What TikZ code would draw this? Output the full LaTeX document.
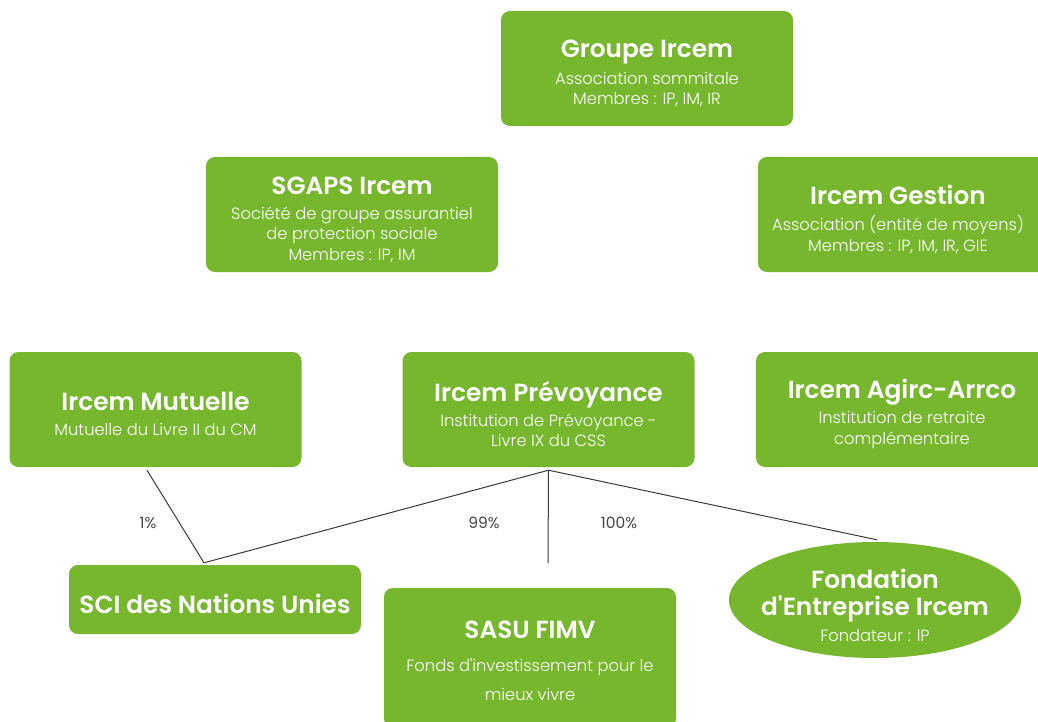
\documentclass[tikz,border=0pt]{standalone}
\usepackage{fontspec}
\setmainfont{Poppins Light}[BoldFont={Poppins SemiBold}]
\newfontfamily\pctfont{Poppins}
\usetikzlibrary{shapes.geometric,calc}
\definecolor{ig}{HTML}{76B72E}
\definecolor{lc}{HTML}{3A3A3A}
\definecolor{pc}{HTML}{444444}
\newcommand{\ttl}[1]{{\fontsize{24.8}{28}\selectfont\bfseries #1}}
\begin{document}
\begin{tikzpicture}[x=1pt,y=-1pt,
  box/.style={fill=ig, rounded corners=9pt, minimum width=292pt, minimum height=115pt, inner sep=0pt},
  lbl/.style={text=white, align=center, inner sep=0pt, font=\fontsize{16.3}{20.5}\selectfont},
  conn/.style={draw=lc, line width=1pt},
  pct/.style={text=pc, inner sep=0pt, font=\pctfont\fontsize{15.5}{17}\selectfont}]
\useasboundingbox (0,0) rectangle (1038,722);
\clip (0,0) rectangle (1038,722);
% boxes
\node[box] (groupe) at (647,68.5) {};
\node[box] (sgaps) at (352,214.5) {};
\node[box] (gestion) at (904,214.5) {};
\node[box] (mutuelle) at (155.5,409.5) {};
\node[box] (prev) at (548.5,409.5) {};
\node[box] (agirc) at (902,409.5) {};
\node[box, minimum height=69pt] (sci) at (215,599.5) {};
\node[box, minimum height=140pt] (sasu) at (530,658) {};
\node[ellipse, fill=ig, minimum width=292pt, minimum height=116pt, inner sep=0pt] (fond) at (875,600) {};
% texts
\node[lbl] (groupe-t) at (647,73.5) {\ttl{Groupe Ircem}\\[6pt]Association sommitale\\Membres : IP, IM, IR};
\node[lbl] (sgaps-t) at (352,220) {\ttl{SGAPS Ircem}\\[4pt]Société de groupe assurantiel\\de protection sociale\\Membres : IP, IM};
\node[lbl] (gestion-t) at (898,219.5) {\ttl{Ircem Gestion}\\[5.5pt]Association (entité de moyens)\\Membres : IP, IM, IR, GIE};
\node[lbl] (mutuelle-t) at (155.5,414) {\ttl{Ircem Mutuelle}\\[5pt]Mutuelle du Livre II du CM};
\node[lbl] (prev-t) at (548.5,414) {\ttl{Ircem Prévoyance}\\[4.5pt]Institution de Prévoyance -\\Livre IX du CSS};
\node[lbl] (agirc-t) at (902,414) {\ttl{Ircem Agirc-Arrco}\\[4.5pt]Institution de retraite\\complémentaire};
\node[lbl] (sci-t) at (215,604) {\ttl{SCI des Nations Unies}};
\node[lbl] (sasu-t) at (530,661) {\ttl{SASU FIMV}\\[12pt]Fonds d\textquotesingle investissement pour le\\[8.5pt]mieux vivre};
\node[lbl] (fond-t) at (875,605) {\ttl{Fondation}\\[7pt]\ttl{d\textquotesingle Entreprise Ircem}\\[5pt]Fondateur : IP};
% connectors
\coordinate (mtop) at ([xshift=-8.5pt,yshift=-3pt]mutuelle.south);
\coordinate (pv) at ([yshift=-3pt]prev.south);
\coordinate (scitop) at ([xshift=-11pt,yshift=2pt]sci.north);
\coordinate (sasutop) at (548,563);
\coordinate (fondtop) at ([xshift=2pt,yshift=2pt]fond.north);
\draw[conn] (mtop) -- (scitop);
\draw[conn] (pv) -- (scitop);
\draw[conn] (pv) -- (sasutop);
\draw[conn] (pv) -- (fondtop);
% percentages
\node[pct] (p1) at (148,523) {1\%};
\node[pct] (p99) at (484,523) {99\%};
\node[pct] (p100) at (619,523) {100\%};
\end{tikzpicture}
\end{document}
